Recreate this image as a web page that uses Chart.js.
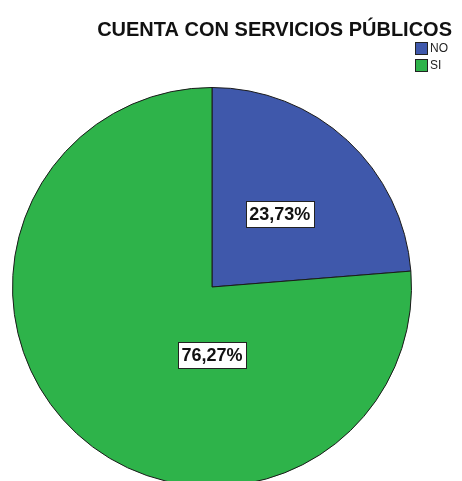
<!DOCTYPE html>
<html>
<head>
<meta charset="utf-8">
<script src="https://cdn.jsdelivr.net/npm/chart.js@4"></script>
<style>
  html, body { margin: 0; padding: 0; background: #fff; overflow: hidden; }
  #wrap { position: relative; width: 462px; height: 481px; overflow: hidden; }
</style>
</head>
<body>
<div id="wrap"><canvas id="pieChart" width="462" height="500"></canvas></div>
<script>
const chartTitle = 'CUENTA CON SERVICIOS PÚBLICOS';
const categories = ['NO', 'SI'];
const percentages = [23.73, 76.27];
const sliceColors = ['#3F58AB', '#2EB34A'];
// where each label sits, as a fraction of the radius (SPSS style placement)
const labelSpots = [{ angle: 'mid', dist: 0.5 }, { angle: Math.PI, dist: 0.34 }];

const fontFamily = "'Liberation Sans', Arial, sans-serif";

const extrasPlugin = {
    id: 'extras',
    afterDraw(chart) {
        const ctx = chart.ctx;
        const meta = chart.getDatasetMeta(0);
        ctx.save();

        // slice labels in white boxes
        ctx.font = 'bold 18px ' + fontFamily;
        ctx.textAlign = 'center';
        ctx.textBaseline = 'middle';
        meta.data.forEach((arc, i) => {
            const spot = labelSpots[i];
            const a = spot.angle === 'mid' ? (arc.startAngle + arc.endAngle) / 2 : spot.angle - Math.PI / 2;
            const r = arc.outerRadius * spot.dist;
            const x = arc.x + Math.cos(a) * r;
            const y = arc.y + Math.sin(a) * r;
            const text = percentages[i].toFixed(2).replace('.', ',') + '%';
            const w = Math.round(ctx.measureText(text).width + 7);
            const h = 26;
            const bx = Math.round(x - w / 2) + 0.5;
            const by = Math.round(y - h / 2) + 0.5;
            ctx.fillStyle = '#fff';
            ctx.fillRect(bx, by, w, h);
            ctx.strokeStyle = '#222';
            ctx.lineWidth = 1;
            ctx.strokeRect(bx, by, w, h);
            ctx.fillStyle = '#111';
            ctx.fillText(text, x, y + 1);
        });

        // title
        ctx.font = 'bold 20px ' + fontFamily;
        ctx.textAlign = 'right';
        ctx.textBaseline = 'alphabetic';
        ctx.fillStyle = '#111';
        ctx.fillText(chartTitle, 452, 36);

        // legend
        ctx.font = '12px ' + fontFamily;
        ctx.textAlign = 'left';
        ctx.textBaseline = 'middle';
        categories.forEach((c, i) => {
            const y = 42 + i * 17;
            ctx.fillStyle = sliceColors[i];
            ctx.fillRect(415.5, y + 0.5, 12, 12);
            ctx.strokeStyle = '#222';
            ctx.strokeRect(415.5, y + 0.5, 12, 12);
            ctx.fillStyle = '#222';
            ctx.fillText(c, 430, y + 7);
        });
        ctx.restore();
    }
};

new Chart(document.getElementById('pieChart').getContext('2d'), {
    type: 'pie',
    data: {
        labels: categories,
        datasets: [{
            data: percentages,
            backgroundColor: sliceColors,
            borderColor: '#1a1a1a',
            borderWidth: 1
        }]
    },
    options: {
        responsive: false,
        animation: false,
        layout: { padding: { left: 12, right: 50, top: 87, bottom: 13 } },
        plugins: {
            legend: { display: false },
            tooltip: { enabled: false }
        }
    },
    plugins: [extrasPlugin]
});
</script>
</body>
</html>
